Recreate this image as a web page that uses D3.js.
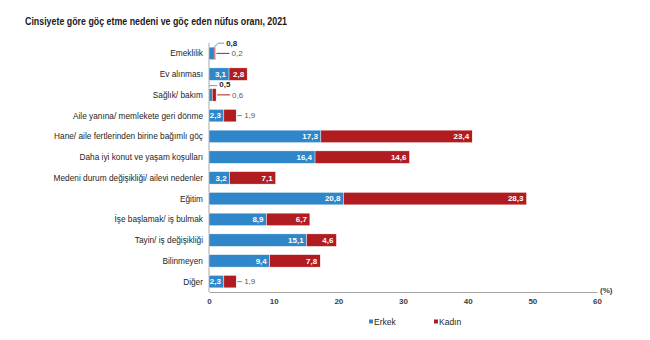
<!DOCTYPE html>
<html>
<head>
<meta charset="utf-8">
<script src="https://cdn.jsdelivr.net/npm/d3@7"></script>
<style>
  html, body { margin: 0; padding: 0; background: #fff; }
  svg { display: block; }
</style>
</head>
<body>
<svg id="chart" width="650" height="340"></svg>
<script>
// Migration reasons by sex, 2021 (%)
const categories = [
  "Emeklilik",
  "Ev alınması",
  "Sağlık/ bakım",
  "Aile yanına/ memlekete geri dönme",
  "Hane/ aile fertlerinden birine bağımlı göç",
  "Daha iyi konut ve yaşam koşulları",
  "Medeni durum değişikliği/ ailevi nedenler",
  "Eğitim",
  "İşe başlamak/ iş bulmak",
  "Tayin/ iş değişikliği",
  "Bilinmeyen",
  "Diğer"
];
const erkek = [0.8, 3.1, 0.5, 2.3, 17.3, 16.4, 3.2, 20.8, 8.9, 15.1, 9.4, 2.3];
const kadin = [0.2, 2.8, 0.6, 1.9, 23.4, 14.6, 7.1, 28.3, 6.7, 4.6, 7.8, 1.9];
const seriesNames = ["Erkek", "Kadın"];
const xTicks = [0, 10, 20, 30, 40, 50, 60];
const titleText = "Cinsiyete göre göç etme nedeni ve göç eden nüfus oranı, 2021";

const colors = { Erkek: "#2f86c8", Kadın: "#b01c1f" };
const fmt = v => String(v.toFixed(1)).replace(".", ",");
const font = "'Liberation Sans', Arial, sans-serif";

const svg = d3.select("#chart");

const x = d3.scaleLinear().domain([0, 60]).range([209, 597]);
const y = d3.scaleBand().domain(categories).range([43, 292]).paddingInner(0.4).paddingOuter(0.2);

// Title
svg.append("text")
  .attr("x", 25).attr("y", 25)
  .attr("font-family", font).attr("font-weight", "bold").attr("font-size", 11.5)
  .attr("fill", "#1a1a1a")
  .attr("textLength", 262).attr("lengthAdjust", "spacingAndGlyphs")
  .text(titleText);

// Axes
const xAxis = svg.append("g")
  .attr("transform", "translate(0,292)")
  .call(d3.axisBottom(x).tickValues(xTicks).tickSize(0).tickPadding(6));
xAxis.select(".domain").attr("stroke", "#a6a6a6");
xAxis.selectAll("text")
  .attr("font-family", font).attr("font-size", 8).attr("font-weight", "bold")
  .attr("fill", "#404040");

svg.append("line")
  .attr("x1", x(0)).attr("x2", x(0))
  .attr("y1", 43).attr("y2", 292)
  .attr("stroke", "#a6a6a6");

svg.append("text")
  .attr("x", x(60) + 3).attr("y", 293)
  .attr("font-family", font).attr("font-size", 8).attr("font-weight", "bold")
  .attr("fill", "#404040")
  .text("(%)");

// Category labels
svg.append("g").selectAll("text")
  .data(categories).join("text")
  .attr("x", 203)
  .attr("y", d => y(d) + y.bandwidth() / 2)
  .attr("dy", "0.35em")
  .attr("text-anchor", "end")
  .attr("font-family", font).attr("font-size", 8.3)
  .attr("fill", "#1e1e1e")
  .text(d => d);

// Stacked bars
const rows = categories.map((c, i) => ({ cat: c, Erkek: erkek[i], Kadın: kadin[i] }));
const stacked = d3.stack().keys(seriesNames)(rows);

const layers = svg.append("g").selectAll("g")
  .data(stacked).join("g")
  .attr("fill", d => colors[d.key]);

layers.selectAll("rect")
  .data(d => d.map(p => Object.assign({ key: d.key }, p)))
  .join("rect")
  .attr("x", d => x(d[0]))
  .attr("y", d => y(d.data.cat))
  .attr("width", d => x(d[1]) - x(d[0]))
  .attr("height", y.bandwidth())
  .attr("stroke", "#ffffff")
  .attr("stroke-width", 0.4);

// Value labels
const labelG = svg.append("g");
stacked.forEach(layer => {
  layer.forEach(p => {
    const v = p[1] - p[0];
    const cy = y(p.data.cat) + y.bandwidth() / 2;
    if (v >= 2.3 || (layer.key === "Erkek" && v >= 2)) {
      labelG.append("text")
        .attr("x", x(p[1]) - 3)
        .attr("y", cy).attr("dy", "0.35em")
        .attr("text-anchor", "end")
        .attr("font-family", font).attr("font-size", 8).attr("font-weight", "bold")
        .attr("fill", "#ffffff")
        .text(fmt(v));
    } else if (layer.key === "Kadın") {
      // outside to the right with a short leader line
      const ex = x(p[1]);
      const lineEnd = v < 1 ? ex + 14 : ex + 6;
      labelG.append("line")
        .attr("x1", ex + 1).attr("x2", lineEnd)
        .attr("y1", cy).attr("y2", cy)
        .attr("stroke", v < 1 ? colors.Kadın : "#8c8c8c").attr("stroke-width", 1);
      labelG.append("text")
        .attr("x", lineEnd + 2)
        .attr("y", cy).attr("dy", "0.35em")
        .attr("font-family", font).attr("font-size", 8)
        .attr("fill", "#595959")
        .text(fmt(v));
    } else {
      // small Erkek value: label above the bar
      const ex = x(p[1]);
      const top = y(p.data.cat);
      const ly = top - 4;
      const far = p.data.cat === categories[0];
      const pts = far
        ? [[ex - 1, top + 1], [ex + 4, ly], [ex + 10, ly]]
        : [[ex - 3, ly + 1], [ex + 5, ly + 1]];
      labelG.append("path")
        .attr("d", d3.line()(pts))
        .attr("fill", "none")
        .attr("stroke", "#5f9fc8").attr("stroke-width", 1);
      labelG.append("text")
        .attr("x", pts[pts.length - 1][0] + 2)
        .attr("y", ly).attr("dy", "0.35em")
        .attr("font-family", font).attr("font-size", 8).attr("font-weight", "bold")
        .attr("fill", "#262626")
        .text(fmt(v));
    }
  });
});

// Legend
const legend = svg.append("g").attr("transform", "translate(0,322)");
const legendX = [369, 434];
seriesNames.forEach((s, i) => {
  legend.append("rect")
    .attr("x", legendX[i]).attr("y", -2.5)
    .attr("width", 4).attr("height", 4)
    .attr("fill", colors[s]);
  legend.append("text")
    .attr("x", legendX[i] + 5).attr("y", 0).attr("dy", "0.35em")
    .attr("font-family", font).attr("font-size", 8.5)
    .attr("fill", "#262626")
    .text(s);
});
</script>
</body>
</html>
